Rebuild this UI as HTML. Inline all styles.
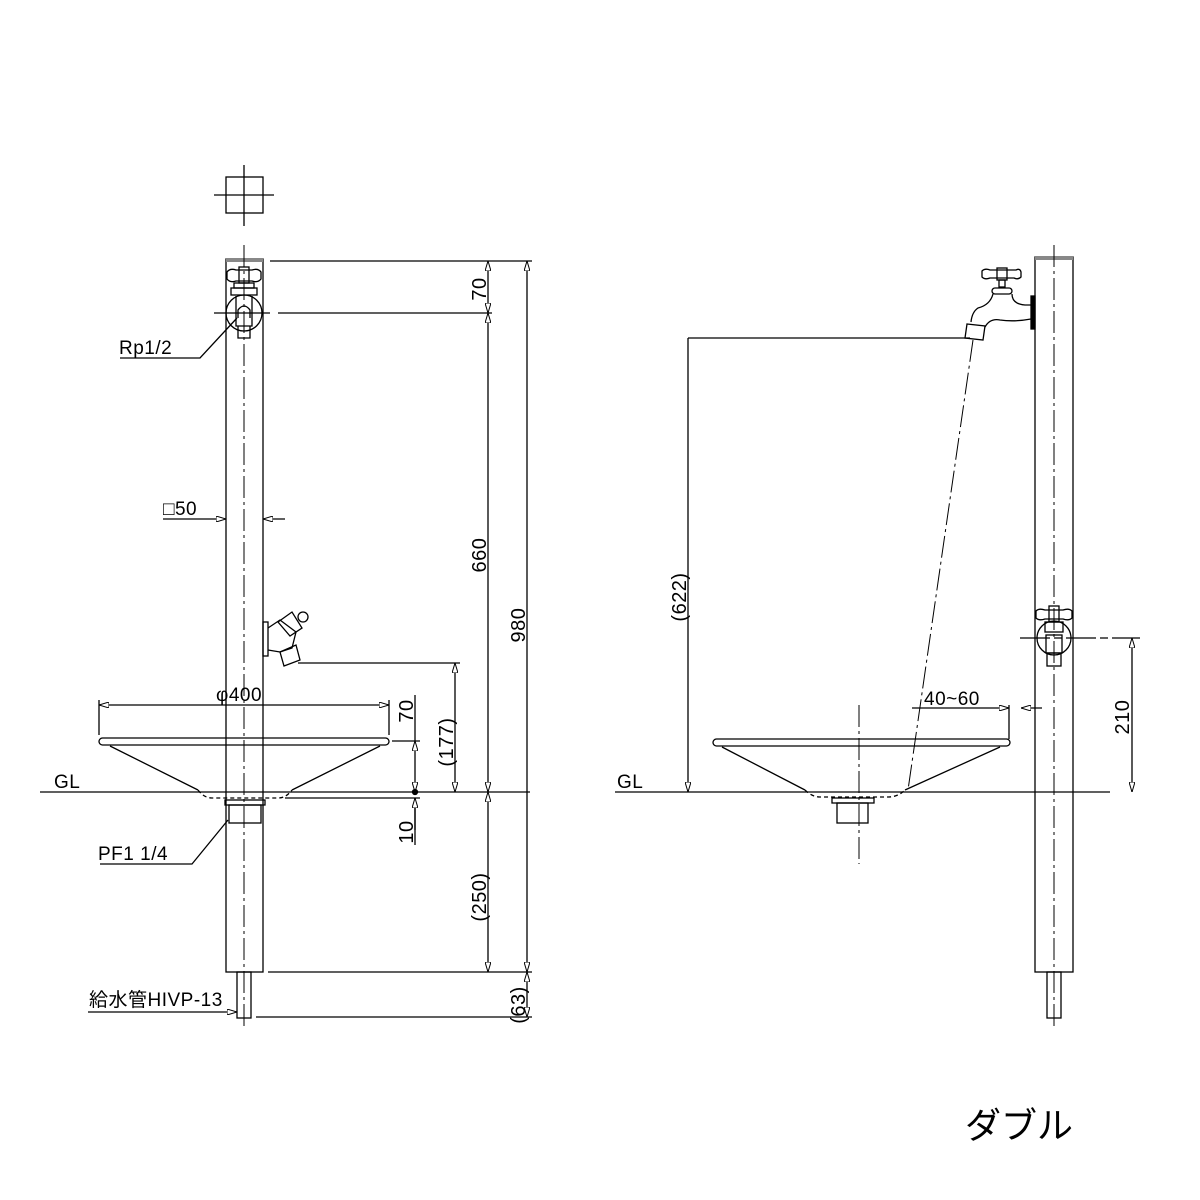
<!DOCTYPE html>
<html><head><meta charset="utf-8"><style>
html,body{margin:0;padding:0;background:#fff;}
svg{display:block;}
text{font-family:"Liberation Sans","Noto Sans CJK JP",sans-serif;fill:#000;}
</style></head><body>
<svg width="1200" height="1200" viewBox="0 0 1200 1200" xmlns="http://www.w3.org/2000/svg">
<defs>
<marker id="a" viewBox="0 0 10 6" refX="10" refY="3" markerWidth="10" markerHeight="6" orient="auto-start-reverse" markerUnits="userSpaceOnUse"><path d="M0,0 L10,3 L0,6 Z" fill="#fff" stroke="#000" stroke-width="1"/></marker>
</defs>
<g stroke="#000" stroke-width="1.3" fill="none">
<rect x="226" y="177" width="37" height="36"/>
<line x1="214" y1="195" x2="274" y2="195"/>
<line x1="244" y1="165" x2="244" y2="226"/>
<rect x="226" y="259" width="37" height="713"/>
<rect x="226" y="258" width="37" height="4" fill="#888" stroke="none"/>
<line x1="244" y1="245" x2="244" y2="1030" stroke-dasharray="22,4,3,4" stroke-width="1"/>
<rect x="237" y="972" width="14" height="46"/>
<path d="M227,272 Q230,268 236,270 L252,270 Q258,268 261,272 L261,279 Q258,283 252,281 L236,281 Q230,283 227,279 Z"/>
<rect x="239" y="267" width="10" height="16"/>
<rect x="234" y="283" width="20" height="5"/>
<rect x="231" y="288" width="26" height="7"/>
<circle cx="244" cy="313" r="18"/>
<path d="M236,296 L236,326 L252,326 L252,296"/>
<path d="M238,326 L238,338 L250,338 L250,326"/>
<path d="M238,318 L238,310 Q244,302 250,310 L250,318"/>
<line x1="214" y1="313" x2="270" y2="313"/>
<line x1="270" y1="261" x2="532" y2="261"/>
<line x1="278" y1="313" x2="492" y2="313"/>
<line x1="488" y1="261" x2="488" y2="313" marker-start="url(#a)" marker-end="url(#a)"/>
<line x1="488" y1="313" x2="488" y2="792" marker-start="url(#a)" marker-end="url(#a)"/>
<line x1="488" y1="792" x2="488" y2="972" marker-start="url(#a)" marker-end="url(#a)"/>
<line x1="527" y1="261" x2="527" y2="972" marker-start="url(#a)" marker-end="url(#a)"/>
<line x1="527" y1="972" x2="527" y2="1017" marker-start="url(#a)" marker-end="url(#a)"/>
<line x1="268" y1="972" x2="532" y2="972"/>
<line x1="256" y1="1017" x2="532" y2="1017"/>
<polyline points="120,358 200,358 237,318" />
<line x1="163" y1="519" x2="226" y2="519" marker-end="url(#a)"/>
<line x1="285" y1="519" x2="263" y2="519" marker-end="url(#a)"/>
<rect x="263" y="622" width="5" height="34"/>
<path d="M268,628 L280,620 L296,632 L292,648 L280,652 L268,650"/>
<path d="M278,622 L292,612 L302,628 L290,636 Z"/>
<circle cx="303" cy="617" r="5"/>
<path d="M280,652 L296,645 L300,660 L284,666 Z"/>
<line x1="298" y1="663" x2="460" y2="663"/>
<line x1="455" y1="663" x2="455" y2="792" marker-start="url(#a)" marker-end="url(#a)"/>
<rect x="99" y="738" width="290" height="7" rx="3.5"/>
<line x1="99" y1="700" x2="99" y2="735"/>
<line x1="389" y1="700" x2="389" y2="735"/>
<line x1="99" y1="705" x2="389" y2="705" marker-start="url(#a)" marker-end="url(#a)"/>
<line x1="110" y1="746" x2="198" y2="790"/>
<line x1="380" y1="746" x2="292" y2="790"/>
<path d="M198,790 Q204,798 212,798 L278,798 Q286,798 292,790" stroke-dasharray="4,3"/>
<rect x="225" y="800" width="40" height="5"/>
<rect x="229" y="805" width="32" height="18"/>
<line x1="392" y1="741" x2="420" y2="741"/>
<line x1="415" y1="695" x2="415" y2="741"/>
<line x1="415" y1="741" x2="415" y2="792" marker-start="url(#a)" marker-end="url(#a)"/>
<line x1="415" y1="798" x2="415" y2="845"/>
<line x1="415" y1="830" x2="415" y2="798" marker-end="url(#a)"/>
<line x1="285" y1="798" x2="420" y2="798"/>
<circle cx="415" cy="792" r="2.5" fill="#000"/>
<line x1="40" y1="792" x2="530" y2="792"/>
<polyline points="100,864 192,864 228,820"/>
<line x1="88" y1="1012" x2="237" y2="1012" marker-end="url(#a)"/>

<rect x="1035" y="257" width="38" height="715"/>
<rect x="1035" y="256" width="38" height="4" fill="#888" stroke="none"/>
<line x1="1054" y1="245" x2="1054" y2="1030" stroke-dasharray="22,4,3,4" stroke-width="1"/>
<rect x="1047" y="972" width="14" height="46"/>
<path d="M982,271 Q985,268 990,270 L1016,270 Q1020,268 1021,272 L1021,277 Q1018,280 1014,278 L990,278 Q985,280 982,277 Z"/>
<rect x="997" y="268" width="10" height="12"/>
<rect x="999" y="280" width="6" height="7"/>
<rect x="992" y="288" width="20" height="6" rx="3"/>
<path d="M993,294 Q990,305 978,308 Q972,312 971,322 M1012,294 Q1012,304 1025,305 L1031,305 M985,327 Q990,318 1000,320 Q1015,322 1031,319"/>
<rect x="1031" y="296" width="4" height="33" fill="#000"/>
<path d="M967,324 L985,326 L983,340 L965,338 Z"/>
<line x1="688" y1="338" x2="970" y2="338"/>
<line x1="688" y1="338" x2="688" y2="792" marker-end="url(#a)"/>
<line x1="973" y1="340" x2="908" y2="790" stroke-dasharray="22,4,3,4" stroke-width="1"/>
<path d="M1036,611 Q1039,608 1045,610 L1063,610 Q1069,608 1072,611 L1072,618 Q1069,621 1063,619 L1045,619 Q1039,621 1036,618 Z"/>
<rect x="1049" y="606" width="10" height="16"/>
<rect x="1045" y="622" width="18" height="10"/>
<circle cx="1054" cy="638" r="17"/>
<rect x="1046" y="635" width="16" height="18"/>
<rect x="1047" y="653" width="14" height="13"/>
<line x1="1020" y1="638" x2="1140" y2="638" stroke-dasharray="30,4,8,4"/>
<line x1="1132" y1="638" x2="1132" y2="792" marker-start="url(#a)" marker-end="url(#a)"/>
<rect x="713" y="739" width="297" height="7" rx="3.5"/>
<line x1="722" y1="747" x2="805" y2="790"/>
<line x1="1000" y1="747" x2="905" y2="790"/>
<path d="M805,790 Q812,797 820,797 L888,797 Q898,797 905,790" stroke-dasharray="4,3"/>
<rect x="832" y="798" width="42" height="5"/>
<rect x="837" y="803" width="31" height="20"/>
<line x1="859" y1="705" x2="859" y2="864" stroke-dasharray="22,4,3,4" stroke-width="1"/>
<line x1="1009" y1="705" x2="1009" y2="739"/>
<line x1="912" y1="708" x2="1009" y2="708" marker-end="url(#a)"/>
<line x1="1042" y1="708" x2="1021" y2="708" marker-end="url(#a)"/>
<line x1="615" y1="792" x2="1110" y2="792"/>
</g>
<g font-size="19" letter-spacing="0.5">
<text x="119" y="354">Rp1/2</text>
<text x="163" y="515">□50</text>
<text x="216" y="701">φ400</text>
<text x="54" y="788">GL</text>
<text x="98" y="860">PF1  1/4</text>
<text x="89" y="1006">給水管HIVP-13</text>
<text x="617" y="788">GL</text>
<text x="924" y="705">40~60</text>
<g font-size="20">
<text transform="translate(486,289) rotate(-90)" text-anchor="middle">70</text>
<text transform="translate(486,555) rotate(-90)" text-anchor="middle">660</text>
<text transform="translate(525,625) rotate(-90)" text-anchor="middle">980</text>
<text transform="translate(486,897) rotate(-90)" text-anchor="middle">(250)</text>
<text transform="translate(525,1005) rotate(-90)" text-anchor="middle">(63)</text>
<text transform="translate(453,742) rotate(-90)" text-anchor="middle">(177)</text>
<text transform="translate(413,711) rotate(-90)" text-anchor="middle">70</text>
<text transform="translate(413,832) rotate(-90)" text-anchor="middle">10</text>
<text transform="translate(686,597) rotate(-90)" text-anchor="middle">(622)</text>
<text transform="translate(1129,717) rotate(-90)" text-anchor="middle">210</text>
</g>
</g>
<text x="965" y="1138" font-size="36">ダブル</text>
</svg>
</body></html>
